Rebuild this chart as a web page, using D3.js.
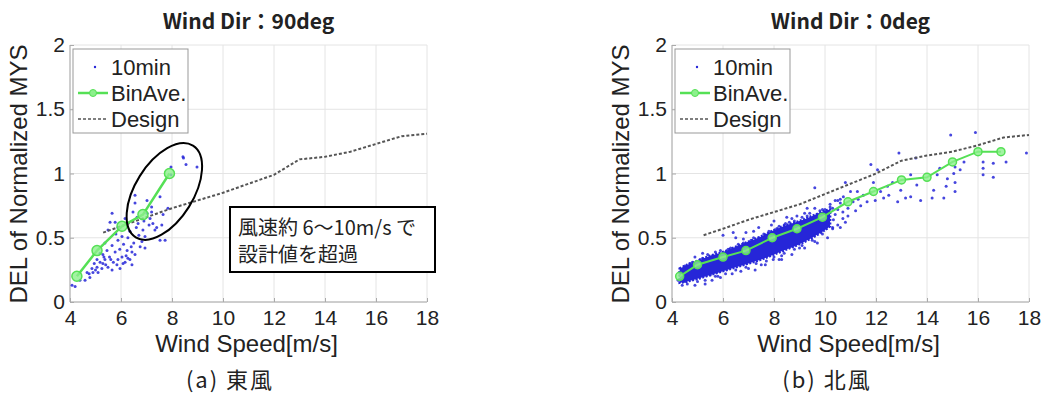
<!doctype html>
<html>
<head>
<meta charset="utf-8">
<title>DEL of Normalized MYS</title>
<script src="https://d3js.org/d3.v7.min.js"></script>
<style>
  body { margin: 0; background: #fff; }
  svg text { font-family: "Liberation Sans", Arial, sans-serif; fill: #222; }
  .jp { font-family: "Noto Sans CJK JP", sans-serif; }
</style>
</head>
<body>
<svg width="1046" height="400"></svg>
<script>
// ---- data ----
var xTicks = [4, 6, 8, 10, 12, 14, 16, 18];
var yTicks = [0, 0.5, 1, 1.5, 2];
var yTickLabels = ["0", "0.5", "1", "1.5", "2"];
var legendLabels = ["10min", "BinAve.", "Design"];

// east wind (90deg)
var eastScatter = [
  [8.43,1.13],[8.45,1.12],[8.55,1.07],[8.98,1.05],[7.96,1.05],[7.96,0.99],[7.53,0.82],[7.2,0.74],
  [6.55,0.77],[6.47,0.70],[6.63,0.66],[7.02,0.69],[7.14,0.65],[7.25,0.61],[7.6,0.60],[7.33,0.56],
  [6.94,0.51],[7.53,0.48],[7.73,0.48],[6.82,0.47],[6.75,0.43],[6.94,0.42],[6.43,0.39],[6.55,0.37],
  [6.24,0.40],[6.27,0.34],[6.43,0.29],[6.04,0.35],[6.08,0.30],[5.88,0.33],[5.77,0.39],[5.65,0.44],
  [5.57,0.62],[5.49,0.56],[5.77,0.62],[5.88,0.58],[5.65,0.69],[6.16,0.65],[6.24,0.61],[6.35,0.55],
  [6.27,0.50],[5.45,0.40],[5.29,0.37],[5.37,0.33],[5.18,0.31],[5.49,0.27],[5.25,0.26],[5.06,0.27],
  [4.9,0.23],[4.78,0.19],[4.67,0.23],[4.59,0.17],[4.86,0.26],[5.1,0.23],[4.08,0.13],[4.2,0.12],
  [4.39,0.17],[5.29,0.30],[5.65,0.25],[5.84,0.29],[5.96,0.26],[6.16,0.31],[5.06,0.33],[5.18,0.38],
  [5.37,0.46],[5.88,0.48],[6.04,0.51],[6.86,0.56],[6.67,0.61],[7.2,0.70],[7.02,0.79],[6.55,0.83],
  [7.65,0.68],[7.84,0.73],[5.55,0.35],[5.7,0.31],[6.35,0.33],[5.4,0.29],[4.95,0.30],[6.1,0.45],
  [6.6,0.58],[6.9,0.63],[5.95,0.41],[6.5,0.46],[5.6,0.33],[5.33,0.35],[5.0,0.25],[4.75,0.22],
  [6.2,0.36],[6.4,0.43],[5.8,0.53],[6.7,0.52],[7.4,0.58],[7.1,0.6]
];
var eastBinAve = [[4.27,0.2],[5.06,0.4],[6.04,0.59],[6.86,0.68],[7.9,1.0]];
var eastDesign = [[5.3,0.54],[6,0.59],[7,0.66],[8,0.73],[9,0.79],[10,0.85],[11,0.92],[12,0.99],
  [13,1.11],[14,1.13],[15,1.17],[16,1.23],[17,1.29],[18,1.31]];

// north wind (0deg): dense core band + individual points
var northCoreX     = [4.3, 4.6, 5.0, 5.5, 6.0, 6.5, 7.0, 7.5, 8.0, 8.5, 9.0, 9.5, 10.0, 10.2];
var northCoreUpper = [0.26,0.29,0.32,0.36,0.39,0.43,0.47,0.51,0.56,0.60,0.63,0.67,0.71, 0.72];
var northCoreLower = [0.15,0.16,0.18,0.21,0.24,0.27,0.30,0.33,0.37,0.41,0.45,0.50,0.56, 0.59];
var northScatter = [
  [14.93,1.30],[15.9,1.32],[17.9,1.16],[12.9,1.16],[13.56,1.12],[11.8,1.07],[12.06,1.03],[16.2,1.09],
  [16.6,1.08],[17.1,1.09],[16.2,1.04],[16.2,0.99],[16.6,0.97],[15.1,1.05],[15.05,1.0],[15.1,0.93],
  [15.1,0.86],[14.66,0.81],[14.26,0.87],[14.2,0.81],[13.75,0.79],[13.36,0.82],[14.4,0.99],[14.5,1.04],
  [14.8,0.96],[15.3,1.03],[15.45,1.09],[14.75,0.9],[13.36,0.99],[13.6,0.91],[12.97,0.87],[13.16,0.81],
  [12.65,0.93],[12.45,0.9],[12.5,0.83],[12.18,0.86],[11.9,0.93],[12.3,0.81],[12.85,0.78],[11.8,0.85],
  [11.5,0.83],[11.27,0.86],[11.1,0.78],[11.4,0.75],[11.65,0.78],[11.97,0.79],[10.8,0.93],[11.0,0.86],
  [10.72,0.82],[10.6,0.77],[10.4,0.79],[10.2,0.74],[10.5,0.72],[10.9,0.73],[10.1,0.68],[10.33,0.64],
  [10.7,0.65],[10.0,0.61],[10.3,0.58],[10.6,0.58],[9.9,0.56],[9.95,0.65],[9.6,0.89],[10.5,0.79],
  [8.3,0.33],[7.97,0.33],[6.4,0.54],[6.0,0.52],[6.9,0.54],[7.66,0.50],[7.4,0.58],[8.45,0.61],
  [8.7,0.65],[9.2,0.69],[9.5,0.64],[9.7,0.68],[10.0,0.72],[10.3,0.73],[4.9,0.13],[5.57,0.17],
  [5.8,0.2],[6.36,0.22],[7.0,0.26],[7.26,0.25],[7.66,0.29],[8.2,0.33],[8.7,0.37],[9.2,0.42],
  [9.7,0.46],[10.1,0.5],[4.24,0.17],[4.4,0.2],[4.5,0.16],[4.6,0.23],[4.3,0.23],
  [4.5,0.28],[4.8,0.31],[5.2,0.34],[5.6,0.36],[5.9,0.4],[6.3,0.42],[6.6,0.45],[7.1,0.48],
  [7.4,0.5],[7.8,0.55],[8.1,0.57],[8.4,0.6],[8.8,0.63],[9.1,0.66],[9.4,0.69],[9.8,0.71],
  [10.2,0.76],[10.6,0.8],[6.8,0.49],[5.4,0.37],[8.9,0.67],[9.6,0.73],
  [4.6,0.14],[5.0,0.16],[5.3,0.17],[5.7,0.2],[6.1,0.22],[6.5,0.25],[6.9,0.27],[7.3,0.3],
  [7.7,0.32],[8.0,0.35],[8.4,0.38],[8.8,0.41],[9.1,0.44],[9.5,0.48],[9.9,0.53],[10.3,0.57],
  [10.8,0.62],[4.4,0.13],[5.5,0.21],
  [4.7,0.30],[5.1,0.33],[5.7,0.39],[6.2,0.41],[6.8,0.46],[7.2,0.50],[7.6,0.53],[8.2,0.59],
  [8.6,0.62],[9.3,0.67],[9.9,0.72],[5.3,0.14],[5.9,0.19],[6.7,0.24],[7.5,0.29],[8.3,0.36],
  [9.0,0.42],[9.6,0.47],[10.5,0.6],[10.9,0.67],[11.2,0.71],[10.4,0.68],[11.3,0.8],[10.7,0.7],
  [6.5,0.50],[7.9,0.60],[8.5,0.66],[5.2,0.38],[4.9,0.35],[7.2,0.55],[9.3,0.73],[8.0,0.63]
];
var northBinAve = [[4.3,0.2],[5.0,0.29],[6.0,0.35],[6.9,0.40],[7.93,0.50],[8.9,0.57],[9.9,0.66],
  [10.9,0.78],[11.9,0.86],[13.0,0.95],[14.0,0.97],[15.0,1.09],[16.0,1.17],[16.9,1.17]];
var northDesign = [[5.24,0.52],[6,0.57],[7,0.64],[8,0.70],[9,0.76],[10,0.84],[11,0.92],[12,1.0],
  [13,1.1],[14,1.14],[15,1.17],[16,1.22],[17,1.28],[18,1.30]];

var svg = d3.select("svg");
var blue = "#2626d8", green = "#55e055";

function drawPanel(p) {
  var x = d3.scaleLinear().domain([4, 18]).range([p.left, p.left + 357]);
  var y = d3.scaleLinear().domain([0, 2]).range([302, 45]);
  var g = svg.append("g");

  // grid
  g.selectAll(".gx").data(xTicks).enter().append("line")
    .attr("x1", function(d) { return x(d); }).attr("x2", function(d) { return x(d); })
    .attr("y1", y(0)).attr("y2", y(2)).attr("stroke", "#e4e4e4");
  g.selectAll(".gy").data(yTicks).enter().append("line")
    .attr("x1", x(4)).attr("x2", x(18))
    .attr("y1", function(d) { return y(d); }).attr("y2", function(d) { return y(d); })
    .attr("stroke", "#e4e4e4");
  g.append("path").attr("d", "M" + x(4) + "," + y(0) + "H" + x(18)).attr("stroke", "#aaa").attr("fill", "none");
  g.append("path").attr("d", "M" + x(4) + "," + y(0) + "V" + y(2)).attr("stroke", "#aaa").attr("fill", "none");

  // axes
  var xa = g.append("g").attr("transform", "translate(0," + y(0) + ")")
    .call(d3.axisBottom(x).tickValues(xTicks).tickSize(-4).tickPadding(9));
  var ya = g.append("g").attr("transform", "translate(" + x(4) + ",0)")
    .call(d3.axisLeft(y).tickValues(yTicks).tickFormat(function(d, i) { return yTickLabels[i]; })
      .tickSize(-4).tickPadding(5));
  [xa, ya].forEach(function(a) {
    a.select(".domain").remove();
    a.selectAll("line").attr("stroke", "#aaa");
    a.selectAll("text").attr("font-size", 21).attr("font-family", "'Liberation Sans', Arial, sans-serif").attr("fill", "#2a2a2a");
  });
  xa.selectAll("text").attr("dy", "0.68em");

  // dense core of the 10-min cloud
  if (p.coreX) {
    var area = d3.area().x(function(d, i) { return x(p.coreX[i]); })
      .y0(function(d, i) { return y(p.coreLower[i]); })
      .y1(function(d, i) { return y(p.coreUpper[i]); })
      .curve(d3.curveCatmullRom);
    g.append("path").datum(p.coreX).attr("d", area).attr("fill", blue)
      .attr("stroke", blue).attr("stroke-width", 2.5).attr("stroke-dasharray", "2,1.5");
  }
  g.selectAll(".pt").data(p.scatter).enter().append("circle")
    .attr("cx", function(d) { return x(d[0]); }).attr("cy", function(d) { return y(d[1]); })
    .attr("r", 1.5).attr("fill", blue).attr("opacity", 0.85);

  var line = d3.line().x(function(d) { return x(d[0]); }).y(function(d) { return y(d[1]); });
  g.append("path").datum(p.design).attr("d", line).attr("fill", "none")
    .attr("stroke", "#555").attr("stroke-width", 2).attr("stroke-dasharray", "3,2");
  g.append("path").datum(p.bin).attr("d", line).attr("fill", "none")
    .attr("stroke", green).attr("stroke-width", p.lw);
  g.selectAll(".bm").data(p.bin).enter().append("circle")
    .attr("cx", function(d) { return x(d[0]); }).attr("cy", function(d) { return y(d[1]); })
    .attr("r", p.mr).attr("fill", "#8cf08c").attr("fill-opacity", 0.8).attr("stroke", green).attr("stroke-width", 1.5);

  // legend
  var lx = x(4) + 3;
  var lg = g.append("g");
  lg.append("rect").attr("x", lx).attr("y", 49).attr("width", 115).attr("height", 84)
    .attr("fill", "#fff").attr("stroke", "#999");
  lg.append("circle").attr("cx", lx + 22).attr("cy", 67).attr("r", 1.2).attr("fill", blue);
  lg.append("line").attr("x1", lx + 5).attr("x2", lx + 35).attr("y1", 93).attr("y2", 93)
    .attr("stroke", green).attr("stroke-width", 2.5);
  lg.append("circle").attr("cx", lx + 20).attr("cy", 93).attr("r", 3.5).attr("fill", "#8cf08c").attr("stroke", green);
  lg.append("line").attr("x1", lx + 5).attr("x2", lx + 35).attr("y1", 119).attr("y2", 119)
    .attr("stroke", "#555").attr("stroke-width", 1.5).attr("stroke-dasharray", "3,2");
  lg.selectAll(".lt").data(legendLabels).enter().append("text")
    .attr("x", lx + 38).attr("y", function(d, i) { return 67 + i * 26; }).attr("dy", "0.36em")
    .attr("font-size", 22).attr("fill", "#2a2a2a").text(function(d) { return d; });

  // titles and labels
  g.append("text").attr("class", "jp").attr("x", (x(4) + x(18)) / 2).attr("y", 29)
    .attr("text-anchor", "middle").attr("font-size", 21).attr("font-weight", "bold").attr("fill", "#000")
    .text(p.title);
  g.append("text").attr("x", (x(4) + x(18)) / 2 - 2).attr("y", 352)
    .attr("text-anchor", "middle").attr("font-size", 24).attr("fill", "#333").text("Wind Speed[m/s]");
  g.append("text").attr("transform", "translate(" + (x(4) - 43) + "," + 174 + ") rotate(-90)")
    .attr("text-anchor", "middle").attr("font-size", 24).attr("fill", "#333").text("DEL of Normalized MYS");
  g.append("text").attr("class", "jp").attr("x", p.capX).attr("y", 388)
    .attr("text-anchor", "middle").attr("font-size", 22).attr("letter-spacing", 2).attr("fill", "#000")
    .text(p.caption);

  return { x: x, y: y, g: g };
}

var east = drawPanel({ left: 70, title: "Wind Dir：90deg", caption: "(a) 東風", capX: 230,
  scatter: eastScatter, bin: eastBinAve, design: eastDesign, lw: 2.5, mr: 5 });
drawPanel({ left: 672, title: "Wind Dir：0deg", caption: "(b) 北風", capX: 827,
  scatter: northScatter, bin: northBinAve, design: northDesign, lw: 2, mr: 4,
  coreX: northCoreX, coreUpper: northCoreUpper, coreLower: northCoreLower });

// annotation on east panel
var ex = east.x(7.7), ey = east.y(0.86);
east.g.append("ellipse").attr("cx", 0).attr("cy", 0).attr("rx", 54).attr("ry", 29)
  .attr("transform", "translate(" + ex + "," + ey + ") rotate(-58)")
  .attr("fill", "none").attr("stroke", "#000").attr("stroke-width", 2);
east.g.append("rect").attr("x", 230).attr("y", 207).attr("width", 205).attr("height", 65)
  .attr("fill", "#fff").attr("stroke", "#000").attr("stroke-width", 2);
east.g.append("text").attr("class", "jp").attr("x", 238).attr("y", 228).attr("dy", "0.35em")
  .attr("font-size", 20).attr("fill", "#000").text("風速約 6～10m/s で");
east.g.append("text").attr("class", "jp").attr("x", 238).attr("y", 255).attr("dy", "0.35em")
  .attr("font-size", 20).attr("fill", "#000").text("設計値を超過");
</script>
</body>
</html>
